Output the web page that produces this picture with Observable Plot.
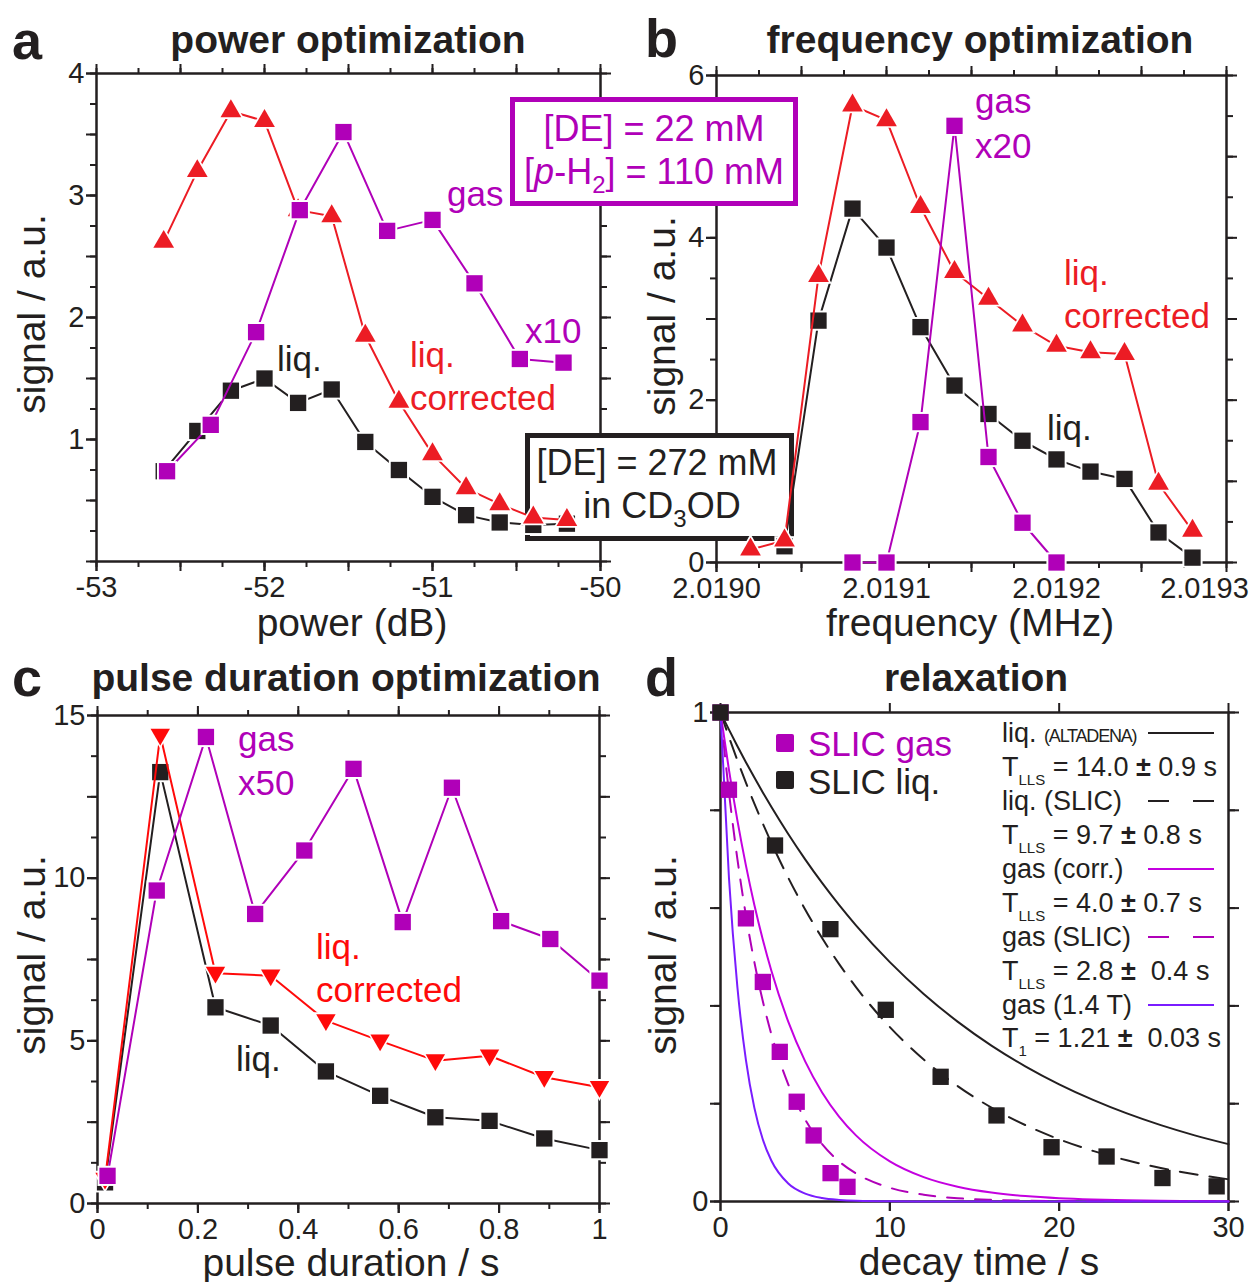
<!DOCTYPE html>
<html><head><meta charset="utf-8">
<script src="https://cdn.jsdelivr.net/npm/d3@7"></script>
<script src="https://cdn.jsdelivr.net/npm/@observablehq/plot@0.6"></script>
<style>
body{margin:0;background:#fff;}
#root{position:relative;width:1254px;height:1282px;overflow:hidden;font-family:"Liberation Sans",Arial,Helvetica,sans-serif;color:#231f20;background:#fff;}
.t{position:absolute;white-space:nowrap;line-height:1;}
.sub{font-size:15px;position:relative;top:9px;}
.box{position:absolute;box-sizing:border-box;}
</style></head><body><div id="root"></div>
<script>
// ---------- DATA ----------
// a: power optimization
const powerX      = [-52.6,-52.4,-52.2,-52.0,-51.8,-51.6,-51.4,-51.2,-51.0,-50.8,-50.6,-50.4,-50.2];
const powerLiq    = [0.74,1.07,1.40,1.50,1.30,1.41,0.98,0.75,0.53,0.38,0.32,0.30,0.31];
const powerLiqCor = [2.62,3.20,3.69,3.61,2.88,2.83,1.85,1.31,0.88,0.60,0.47,0.36,0.34];
const powerGasX   = [-52.58,-52.32,-52.05,-51.79,-51.53,-51.27,-51.0,-50.75,-50.48,-50.22];
const powerGas    = [0.74,1.12,1.88,2.88,3.52,2.71,2.80,2.28,1.66,1.63];
// b: frequency optimization
const freqX       = [2.01902,2.01904,2.01906,2.01908,2.01910,2.01912,2.01914,2.01916,2.01918,2.01920,2.01922,2.01924,2.01926,2.01928];
const freqLiqCor  = [0.16,0.27,3.53,5.63,5.45,4.38,3.58,3.25,2.92,2.67,2.59,2.57,0.97,0.39];
const freqLiqX    = [2.01904,2.01906,2.01908,2.01910,2.01912,2.01914,2.01916,2.01918,2.01920,2.01922,2.01924,2.01926,2.01928];
const freqLiq     = [0.20,2.98,4.36,3.88,2.90,2.18,1.83,1.50,1.27,1.12,1.03,0.37,0.06];
const freqGasX    = [2.01908,2.01910,2.01912,2.01914,2.01916,2.01918,2.01920];
const freqGas     = [0,0,1.73,5.38,1.30,0.49,0];
// c: pulse duration optimization
const pulseX      = [0.015,0.125,0.235,0.345,0.455,0.563,0.673,0.781,0.890,1.0];
const pulseLiq    = [0.65,13.26,6.03,5.47,4.06,3.31,2.65,2.54,2.00,1.64];
const pulseLiqCor = [0.75,14.4,7.08,7.0,5.62,5.0,4.39,4.54,3.88,3.57];
const pulseGasX   = [0.02,0.118,0.216,0.314,0.412,0.51,0.608,0.706,0.804,0.902,1.0];
const pulseGas    = [0.85,9.62,14.34,8.9,10.85,13.36,8.65,12.78,8.68,8.13,6.85];
// d: relaxation
const decayGasX   = [0,0.5,1.5,2.5,3.5,4.5,5.5,6.5,7.5];
const decayGas    = [1.0,0.842,0.579,0.449,0.306,0.204,0.135,0.058,0.030];
const decayLiqX   = [0,3.22,6.49,9.76,13.0,16.3,19.55,22.8,26.1,29.3];
const decayLiq    = [1.0,0.728,0.557,0.392,0.255,0.176,0.111,0.092,0.048,0.031];
const curveT        = [0,0.5,1,1.5,2,2.5,3,4,5,6,7,8,10,12,14,16,18,20,22,24,26,28,30];
const curveLiqAlt   = [1,0.9649,0.9311,0.8984,0.8669,0.8365,0.8071,0.7515,0.6997,0.6514,0.6065,0.5647,0.4895,0.4244,0.3679,0.3189,0.2765,0.2397,0.2078,0.1801,0.1561,0.1353,0.1173];
const curveLiqSlic  = [1,0.9498,0.9020,0.8567,0.8137,0.7728,0.7340,0.6621,0.5972,0.5387,0.4860,0.4384,0.3567,0.2902,0.2362,0.1921,0.1563,0.1272,0.1035,0.0842,0.0685,0.0558,0.0454];
const curveGasCorr  = [1,0.8825,0.7788,0.6873,0.6065,0.5353,0.4724,0.3679,0.2865,0.2231,0.1738,0.1353,0.0821,0.0498,0.0302,0.0183,0.0111,0.0067,0.0041,0.0025,0.0015,0.0009,0.0006];
const curveGasSlic  = [1,0.8365,0.6997,0.5853,0.4895,0.4095,0.3425,0.2397,0.1677,0.1173,0.0821,0.0574,0.0281,0.0138,0.0067,0.0033,0.0016,0.0008,0.0004,0.0002,0.0001,0,0];
const curveGasT1    = [1,0.6615,0.4376,0.2895,0.1915,0.1267,0.0838,0.0367,0.0160,0.0070,0.0031,0.0013,0.0003,0.0001,0,0,0,0,0,0,0,0,0];

// ---------- STYLE ----------
const RED="#ec1c24", RED2="#ff0a0a", PUR="#b000b8", PUR2="#c400e0", VIO="#7a1cff", BLK="#231f20";
const FONT='"Liberation Sans", Arial, Helvetica, sans-serif';
const root = document.getElementById("root");

function rng(a,b,step){ const n=Math.round((b-a)/step); return d3.range(n+1).map(i=>+(a+i*step).toFixed(8)); }
function pts(xs, ys){ return xs.map((x,i)=>({x, y:ys[i]})); }
const downTri = {draw(ctx, size){ const s=Math.sqrt(size/(Math.sqrt(3)/4)); const h=s*Math.sqrt(3)/2; ctx.moveTo(0,h*0.62); ctx.lineTo(s/2,-h*0.38); ctx.lineTo(-s/2,-h*0.38); ctx.closePath(); }};

const SQ=9.2, SQH=11.4, TR=7.7, TRH=9.9, DT=7.2, DTH=9.4;
function series(xs, ys, color, symbol, r, halo){
  const data = pts(xs, ys);
  return [
    Plot.line(data, {x:"x", y:"y", stroke:color, strokeWidth:2}),
    Plot.dot(data, {x:"x", y:"y", symbol, r:halo, fill:"white", stroke:"none"}),
    Plot.dot(data, {x:"x", y:"y", symbol, r, fill:color, stroke:"none"})
  ];
}
function axes(o){
  const m=[];
  for (const anchor of ["bottom","top"]) {
    if (o.xMinor.length) m.push(Plot.axisX({anchor, ticks:o.xMinor, tickSize:6, tickFormat:()=>"", label:null, strokeWidth:2}));
    m.push(Plot.axisX({anchor, ticks:o.xMajor, tickSize:10, tickFormat:()=>"", label:null, strokeWidth:2}));
  }
  for (const anchor of ["left","right"]) {
    m.push(Plot.axisY({anchor, ticks:o.yMinor, tickSize:6, tickFormat:()=>"", label:null, strokeWidth:2}));
    m.push(Plot.axisY({anchor, ticks:o.yMajor, tickSize:10, tickFormat:()=>"", label:null, strokeWidth:2}));
  }
  m.push(Plot.axisX({anchor:"bottom", ticks:o.xLab, tickSize:10, tickPadding:5, tickFormat:o.xFmt, label:null, fontSize:29, strokeWidth:2}));
  if (o.xLast) m.push(Plot.axisX({anchor:"bottom", ticks:o.xLast, tickSize:0, tickPadding:15, tickFormat:o.xFmt, label:null, fontSize:29, dx:-22}));
  m.push(Plot.axisY({anchor:"left", ticks:o.yLab, tickSize:10, tickPadding:2, tickFormat:o.yFmt, label:null, fontSize:29, strokeWidth:2}));
  m.push(Plot.frame({stroke:BLK, strokeWidth:2.5}));
  return m;
}
function addPlot(p, left, top){ p.style.position="absolute"; p.style.left=left+"px"; p.style.top=top+"px"; root.appendChild(p); }
function txt(html, x, y, o={}){
  const d=document.createElement("div"); d.className="t"; d.innerHTML=html;
  d.style.left=x+"px"; d.style.top=y+"px";
  d.style.fontSize=(o.size||35)+"px"; d.style.color=o.color||BLK; d.style.fontWeight=o.weight||"normal";
  const tx = o.anchor==="middle" ? "-50%" : o.anchor==="end" ? "-100%" : "0";
  d.style.transform=`translate(${tx},-50%)`+(o.rotate?` rotate(${o.rotate}deg)`:"");
  root.appendChild(d); return d;
}
const style = {fontFamily:FONT, fontSize:"29px", color:BLK, background:"transparent", overflow:"visible"};

const curve = (ys, color, dash) => Plot.line(pts(curveT, ys), {x:"x", y:"y", stroke:color, strokeWidth:2, curve:"monotone-x", strokeDasharray:dash});

const panels = [
  { left:0, top:0, m:[73,27,80,96], xd:[-53,-50], yd:[0,4],
    ax:{xMinor:rng(-53,-50,0.25), xMajor:rng(-53,-50,0.5), xLab:[-53,-52,-51,-50], xFmt:d=>String(d),
        yMinor:rng(0,4,0.25), yMajor:rng(0,4,0.5), yLab:[1,2,3,4], yFmt:d=>String(d)},
    data:()=>[...series(powerX, powerLiq, BLK, "square", SQ, SQH),
              ...series(powerX, powerLiqCor, RED, "triangle", TR, TRH),
              ...series(powerGasX, powerGas, PUR, "square", SQ, SQH)] },
  { left:627, top:0, m:[75,28,79,89], xd:[2.019,2.0193], yd:[0,6],
    ax:{xMinor:rng(2.019,2.0193,0.000025), xMajor:rng(2.019,2.0193,0.00005), xLab:rng(2.019,2.0192,0.0001), xLast:[2.0193], xFmt:d=>d.toFixed(4),
        yMinor:rng(0,6,0.5), yMajor:rng(0,6,1), yLab:[0,2,4,6], yFmt:d=>String(d)},
    data:()=>[...series(freqLiqX, freqLiq, BLK, "square", SQ, SQH),
              ...series(freqX, freqLiqCor, RED, "triangle", TR, TRH),
              ...series(freqGasX, freqGas, PUR, "square", SQ, SQH)] },
  { left:0, top:641, m:[74,28,79,97], xd:[0,1], yd:[0,15],
    ax:{xMinor:rng(0,1,0.1), xMajor:rng(0,1,0.2), xLab:rng(0,1,0.2), xFmt:d=>String(+d.toFixed(1)),
        yMinor:rng(0,15,1.25), yMajor:rng(0,15,2.5), yLab:[0,5,10,15], yFmt:d=>String(d)},
    data:()=>[...series(pulseX, pulseLiq, BLK, "square", SQ, SQH),
              ...series(pulseX, pulseLiqCor, RED2, downTri, DT, DTH),
              ...series(pulseGasX, pulseGas, PUR, "square", SQ, SQH)] },
  { left:627, top:641, m:[71,26,81,93], xd:[0,30], yd:[0,1],
    ax:{xMinor:[], xMajor:[0,10,20,30], xLab:[0,10,20,30], xFmt:d=>String(d),
        yMinor:rng(0,1,0.2), yMajor:rng(0,1,0.2), yLab:[0,1], yFmt:d=>String(d)},
    data:()=>[curve(curveLiqAlt, BLK, null),
              curve(curveLiqSlic, BLK, "18,12"),
              curve(curveGasCorr, PUR2, null),
              curve(curveGasSlic, PUR, "16,12"),
              curve(curveGasT1, VIO, null),
              Plot.dot(pts(decayGasX, decayGas), {x:"x", y:"y", symbol:"square", r:SQ, fill:PUR}),
              Plot.dot(pts(decayLiqX, decayLiq), {x:"x", y:"y", symbol:"square", r:SQ, fill:BLK})] }
];
function cfg(p, marks, hide){
  return {width:627, height:641, marginTop:p.m[0], marginRight:p.m[1], marginBottom:p.m[2], marginLeft:p.m[3], style,
    x:{domain:p.xd, axis: hide ? null : undefined}, y:{domain:p.yd, axis: hide ? null : undefined}, marks};
}
// layer 1: axes and frames
for (const p of panels) addPlot(Plot.plot(cfg(p, axes(p.ax), false)), p.left, p.top);

// layer 2: inset boxes
function box(l,t,w,h,color){ const b=document.createElement("div"); b.className="box"; Object.assign(b.style,{left:l+"px",top:t+"px",width:w+"px",height:h+"px",border:`5px solid ${color}`,background:"#fff"}); root.appendChild(b); }
box(510, 97, 288, 109, PUR);
box(525, 433, 269, 108, BLK);

// layer 3: data
for (const p of panels) addPlot(Plot.plot(cfg(p, p.data(), true)), p.left, p.top);

// ---------- TEXT ----------
txt("a", 12, 40, {size:54, weight:"bold"});
txt("b", 645, 38, {size:54, weight:"bold"});
txt("c", 12, 677, {size:54, weight:"bold"});
txt("d", 645, 677, {size:54, weight:"bold"});
txt("power optimization", 348, 39, {size:39, weight:"bold", anchor:"middle"});
txt("frequency optimization", 980, 39, {size:39, weight:"bold", anchor:"middle"});
txt("pulse duration optimization", 346, 677, {size:39, weight:"bold", anchor:"middle"});
txt("relaxation", 976, 677, {size:39, weight:"bold", anchor:"middle"});
txt("power (dB)", 352, 622, {size:39, anchor:"middle"});
txt("frequency (MHz)", 970, 622, {size:39, anchor:"middle"});
txt("pulse duration / s", 351, 1262, {size:39, anchor:"middle"});
txt("decay time / s", 979, 1261, {size:39, anchor:"middle"});
txt("signal / a.u.", 31, 314, {size:39, anchor:"middle", rotate:-90});
txt("signal / a.u.", 661, 316, {size:39, anchor:"middle", rotate:-90});
txt("signal / a.u.", 31, 955, {size:39, anchor:"middle", rotate:-90});
txt("signal / a.u.", 662, 955, {size:39, anchor:"middle", rotate:-90});

// annotations a
txt("gas", 447, 193, {color:PUR});
txt("x10", 525, 330, {color:PUR});
txt("liq.", 277, 358, {color:BLK});
txt("liq.", 410, 354, {color:RED});
txt("corrected", 410, 397, {color:RED});
// annotations b
txt("gas", 975, 100, {color:PUR});
txt("x20", 975, 145, {color:PUR});
txt("liq.", 1064, 272, {color:RED});
txt("corrected", 1064, 315, {color:RED});
txt("liq.", 1047, 427, {color:BLK});
// annotations c
txt("gas", 238, 738, {color:PUR});
txt("x50", 238, 782, {color:PUR});
txt("liq.", 316, 946, {color:RED2});
txt("corrected", 316, 989, {color:RED2});
txt("liq.", 236, 1058, {color:BLK});

// box texts
txt("[DE] = 22 mM", 654, 129, {color:PUR, size:36, anchor:"middle"});
txt('[<i>p</i>-H<span style="font-size:24px;position:relative;top:9px">2</span>] = 110 mM', 654, 172, {color:PUR, size:36, anchor:"middle"});
txt("[DE] = 272 mM", 657, 463, {color:BLK, size:36, anchor:"middle"});
txt('in CD<span style="font-size:24px;position:relative;top:9px">3</span>OD', 662, 506, {color:BLK, size:36, anchor:"middle"});

// legend d (markers)
function sw(x,y,color){ const b=document.createElement("div"); b.className="box"; Object.assign(b.style,{left:(x-9)+"px",top:(y-9)+"px",width:"18px",height:"18px",background:color,borderRadius:"2px"}); root.appendChild(b); }
sw(785, 743, PUR); txt("SLIC gas", 808, 743, {color:PUR, size:35});
sw(785, 780, BLK); txt("SLIC liq.", 808, 781, {color:BLK, size:35});
// legend d (lines)
function lineSw(y, color, dash){
  const s=document.createElementNS("http://www.w3.org/2000/svg","svg");
  s.setAttribute("width","70"); s.setAttribute("height","6");
  Object.assign(s.style,{position:"absolute",left:"1148px",top:(y-3)+"px"});
  const l=document.createElementNS("http://www.w3.org/2000/svg","line");
  l.setAttribute("x1","0"); l.setAttribute("x2","66"); l.setAttribute("y1","3"); l.setAttribute("y2","3");
  l.setAttribute("stroke",color); l.setAttribute("stroke-width","2.2");
  if (dash) l.setAttribute("stroke-dasharray",dash);
  s.appendChild(l); root.appendChild(s);
}
const LX=1002, LS=27;
txt('liq. <span style="font-size:18px;letter-spacing:-1.2px">(ALTADENA)</span>', LX, 733, {size:LS});
lineSw(733, BLK, null);
txt('T<span class="sub">LLS</span> = 14.0 <b>±</b> 0.9 s', LX, 767, {size:LS});
txt('liq. (SLIC)', LX, 801, {size:LS});
lineSw(801, BLK, "21,24");
txt('T<span class="sub">LLS</span> = 9.7 <b>±</b> 0.8 s', LX, 835, {size:LS});
txt('gas (corr.)', LX, 869, {size:LS});
lineSw(869, PUR2, null);
txt('T<span class="sub">LLS</span> = 4.0 <b>±</b> 0.7 s', LX, 903, {size:LS});
txt('gas (SLIC)', LX, 937, {size:LS});
lineSw(937, PUR, "21,24");
txt('T<span class="sub">LLS</span> = 2.8 <b>±</b>&nbsp; 0.4 s', LX, 971, {size:LS});
txt('gas (1.4 T)', LX, 1005, {size:LS});
lineSw(1005, VIO, null);
txt('T<span class="sub">1</span> = 1.21 <b>±</b>&nbsp; 0.03 s', LX, 1038, {size:LS});
</script>
</body></html>
